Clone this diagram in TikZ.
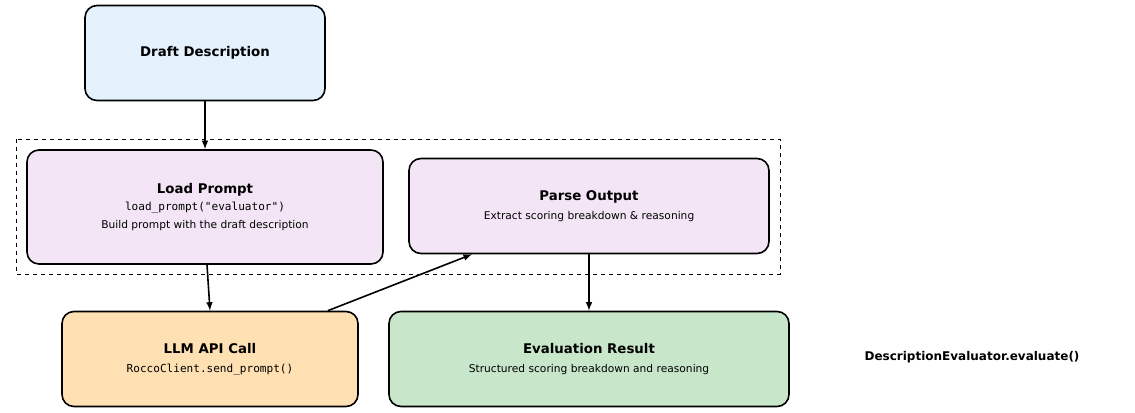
\documentclass[tikz,border=0pt]{standalone}
\usepackage{fontspec}
\setmainfont{DejaVu Sans}
\setmonofont{DejaVu Sans Mono}
\usetikzlibrary{positioning}
\definecolor{draftblue}{HTML}{E3F2FD}
\definecolor{steppurple}{HTML}{F3E5F5}
\definecolor{callorange}{HTML}{FFE0B2}
\definecolor{resultgreen}{HTML}{C8E6C9}
\newcommand{\ttl}[1]{{\fontsize{10}{12}\selectfont\bfseries #1}}
\newcommand{\sub}[1]{{\fontsize{8}{10}\selectfont #1}}
\newcommand{\code}[1]{{\fontsize{8.3}{10}\selectfont\ttfamily #1}}
\begin{document}
\begin{tikzpicture}[>=latex, x=0.75pt, y=-0.75pt,
  box/.style={draw, line width=1.2pt, rounded corners=9pt, align=center,
    inner sep=0pt},
  flow/.style={->, line width=1.2pt}]
\useasboundingbox (0,0) rectangle (1135,413);
\draw[dashed, line width=0.6pt] (16,139) rectangle (780,274);

\node[box, fill=draftblue, minimum width=240*0.75pt, minimum height=95*0.75pt]
  (draft) at (205,53) {\ttl{Draft Description}};
\node[box, fill=steppurple, minimum width=356*0.75pt, minimum height=114*0.75pt]
  (load) at (205,207) {\ttl{Load Prompt}\\[1pt]\code{load\_prompt("evaluator")}\\[1pt]\sub{Build prompt with the draft description}};
\node[box, fill=steppurple, minimum width=360*0.75pt, minimum height=95*0.75pt]
  (parse) at (589,206) {\ttl{Parse Output}\\[2pt]\sub{Extract scoring breakdown \& reasoning}};
\node[box, fill=callorange, minimum width=296*0.75pt, minimum height=95*0.75pt]
  (llm) at (210,359) {\ttl{LLM API Call}\\[2pt]\code{RoccoClient.send\_prompt()}};
\node[box, fill=resultgreen, minimum width=400*0.75pt, minimum height=95*0.75pt]
  (result) at (589,359) {\ttl{Evaluation Result}\\[2pt]\sub{Structured scoring breakdown and reasoning}};
\node (label) at (972,357) {\fontsize{9}{11}\selectfont\bfseries DescriptionEvaluator.evaluate()};

\draw[flow] (draft) -- (load);
\draw[flow] (load.south) ++(2,0) coordinate (ls) (ls) -- (llm.north);
\draw[flow] (llm.north east) ++(-31,0) coordinate (lc) (lc) -- ([xshift=-117*0.75pt]parse.south);
\draw[flow] (parse) -- (result);
\end{tikzpicture}
\end{document}
